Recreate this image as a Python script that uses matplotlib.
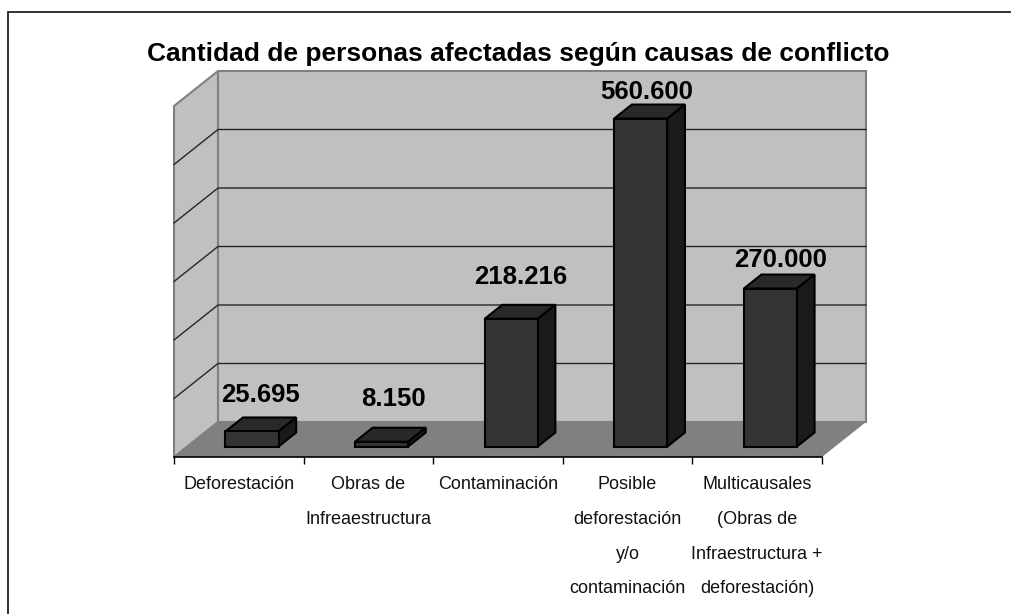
import matplotlib
matplotlib.use('Agg')
import matplotlib.pyplot as plt
from matplotlib.patches import Polygon

categorias = ['Deforestación', 'Obras de\nInfreaestructura', 'Contaminación',
              'Posible\ndeforestación\ny/o\ncontaminación',
              'Multicausales\n(Obras de\nInfraestructura +\ndeforestación)']
valores = [25695, 8150, 218216, 560600, 270000]
etiquetas = ['25.695', '8.150', '218.216', '560.600', '270.000']
titulo = 'Cantidad de personas afectadas según causas de conflicto'
y_ticks = [0, 100000, 200000, 300000, 400000, 500000, 600000]

# ajuste a mano de las etiquetas de valor (pixeles)
etiqueta_dx = [0, 3, 1, -3, 1]
etiqueta_dy = [17, 24, 23, 8, 10]

W, H = 1012, 614
plt.rcParams['font.family'] = ['Liberation Sans', 'DejaVu Sans']

fig = plt.figure(figsize=(W/100, H/100), dpi=100)
# el plano frontal del grafico, en pixeles
ax = fig.add_axes([174/W, 1-457/H, 648/W, 351/H])
ax.set_xlim(0, 5)
ax.set_ylim(0, 600000)
ax.patch.set_visible(False)

# desplazamiento de profundidad en unidades de datos
DX = 44/648*5
DY = 35/351*600000

def proy(x, y, z):
    return (x + z*DX, y + z*DY)

def cara(puntos, color, edge='none', lw=0, zorder=1):
    ax.add_patch(Polygon([proy(*p) for p in puntos], closed=True, facecolor=color,
                         edgecolor=edge, linewidth=lw, clip_on=False, zorder=zorder, joinstyle='miter'))

# paredes y piso
cara([(0, 0, 0), (0, 0, 1), (0, 600000, 1), (0, 600000, 0)], '#c0c0c0', '#808080', 1.5)
cara([(0, 0, 1), (5, 0, 1), (5, 600000, 1), (0, 600000, 1)], '#c0c0c0', '#808080', 1.5)
cara([(0, 0, 0), (5, 0, 0), (5, 0, 1), (0, 0, 1)], '#808080', zorder=2)

for t in y_ticks[1:-1]:
    xs, ys = zip(proy(0, t, 0), proy(0, t, 1), proy(5, t, 1))
    ax.plot(xs, ys, color='#262626', lw=1, clip_on=False, zorder=2, solid_joinstyle='miter')

# barras
ancho = 0.41
z0, z1 = 0.3, 0.7
for i, v in enumerate(valores):
    x0 = i + 0.5 - ancho/2
    x1 = x0 + ancho
    cara([(x0, 0, z0), (x1, 0, z0), (x1, v, z0), (x0, v, z0)], '#333333', 'black', 1.5, 4)
    cara([(x0, v, z0), (x1, v, z0), (x1, v, z1), (x0, v, z1)], '#292929', 'black', 1.5, 3)
    cara([(x1, 0, z0), (x1, 0, z1), (x1, v, z1), (x1, v, z0)], '#1a1a1a', 'black', 1.5, 3)
    px, py = proy(i + 0.5, v, 0.5)
    ax.annotate(etiquetas[i], (px, py), xytext=(etiqueta_dx[i], etiqueta_dy[i]), textcoords='offset pixels',
                ha='center', va='bottom', fontsize=18.5, fontweight='bold', color='black', zorder=5,
                annotation_clip=False)

# ejes
for s in ['left', 'right', 'top']:
    ax.spines[s].set_visible(False)
ax.spines['bottom'].set_color('black')
ax.spines['bottom'].set_linewidth(1.2)
ax.spines['bottom'].set_zorder(6)
ax.yaxis.set_visible(False)
ax.set_xticks(range(6))
ax.set_xticklabels([])
ax.set_xticks([i + 0.5 for i in range(5)], minor=True)
ax.set_xticklabels(categorias, minor=True, fontsize=13, linespacing=2.36, va='top')
ax.tick_params(axis='x', which='major', length=5, width=1, color='black')
ax.tick_params(axis='x', which='minor', length=0, pad=14, labelcolor='#111111')

fig.text(518/W, 1-54/H, titulo, ha='center', va='center', fontsize=19, fontweight='bold', color='black')

# marco exterior: solo izquierda y arriba
fig.add_artist(plt.Line2D([8/W, 8/W, 1], [0, 1-12/H, 1-12/H], color='#333333', lw=1.4, solid_joinstyle='miter'))

fig.savefig('out.png', dpi=100)
